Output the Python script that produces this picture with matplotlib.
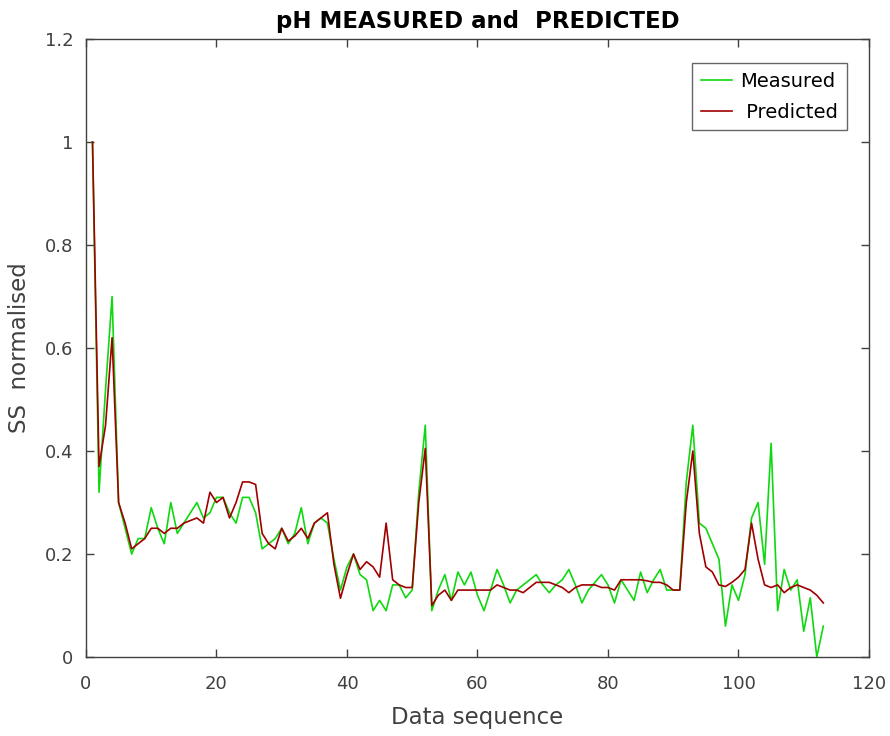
import matplotlib
matplotlib.use("Agg")
import matplotlib.pyplot as plt
import numpy as np

plt.rcParams['font.family'] = ['DejaVu Sans']

# data sequence index 1..113
seq = np.arange(1, 114)

measured = [
    1.0, 0.32, 0.52, 0.70, 0.30, 0.25, 0.20, 0.23, 0.23, 0.29,
    0.25, 0.22, 0.30, 0.24, 0.26, 0.28, 0.30, 0.27, 0.28, 0.31,
    0.31, 0.28, 0.26, 0.31, 0.31, 0.28, 0.21, 0.22, 0.23, 0.25,
    0.22, 0.24, 0.29, 0.22, 0.26, 0.27, 0.26, 0.19, 0.13, 0.175,
    0.20, 0.16, 0.15, 0.09, 0.11, 0.09, 0.14, 0.14, 0.115, 0.13,
    0.32, 0.45, 0.09, 0.13, 0.16, 0.11, 0.165, 0.14, 0.165, 0.12,
    0.09, 0.13, 0.17, 0.14, 0.105, 0.13, 0.14, 0.15, 0.16, 0.14,
    0.125, 0.14, 0.15, 0.17, 0.14, 0.105, 0.13, 0.145, 0.16, 0.14,
    0.105, 0.15, 0.13, 0.11, 0.165, 0.125, 0.15, 0.17, 0.13, 0.13,
    0.13, 0.34, 0.45, 0.26, 0.25, 0.22, 0.19, 0.06, 0.14, 0.11,
    0.16, 0.27, 0.30, 0.18, 0.415, 0.09, 0.17, 0.13, 0.15, 0.05,
    0.115, 0.0, 0.06,
]

predicted = [
    1.0, 0.37, 0.45, 0.62, 0.30, 0.26, 0.21, 0.22, 0.23, 0.25,
    0.25, 0.24, 0.25, 0.25, 0.26, 0.265, 0.27, 0.26, 0.32, 0.30,
    0.31, 0.27, 0.30, 0.34, 0.34, 0.335, 0.24, 0.22, 0.21, 0.25,
    0.225, 0.235, 0.25, 0.23, 0.26, 0.27, 0.28, 0.18, 0.114, 0.16,
    0.20, 0.17, 0.185, 0.175, 0.155, 0.26, 0.15, 0.14, 0.135, 0.135,
    0.30, 0.405, 0.10, 0.12, 0.13, 0.11, 0.13, 0.13, 0.13, 0.13,
    0.13, 0.13, 0.14, 0.135, 0.13, 0.13, 0.125, 0.135, 0.145, 0.145,
    0.145, 0.14, 0.135, 0.125, 0.135, 0.14, 0.14, 0.14, 0.135, 0.135,
    0.13, 0.15, 0.15, 0.15, 0.15, 0.148, 0.145, 0.145, 0.14, 0.13,
    0.13, 0.30, 0.40, 0.24, 0.175, 0.165, 0.14, 0.137, 0.145, 0.155,
    0.17, 0.26, 0.19, 0.14, 0.135, 0.14, 0.125, 0.135, 0.14, 0.135,
    0.13, 0.12, 0.105,
]

grey = '#404040'

fig = plt.figure(figsize=(8.9, 7.36), dpi=100)
ax = fig.add_axes([0.0966, 0.1073, 0.8798, 0.8397])

ax.plot(seq, measured, color='#10d810', lw=1.2, label='Measured')
ax.plot(seq, predicted, color='#a00000', lw=1.2, label=' Predicted')

ax.set_xlim(0, 120)
ax.set_ylim(0, 1.2)
ax.set_xticks(np.arange(0, 121, 20))
ax.set_yticks(np.arange(0, 1.21, 0.2))
ax.set_yticklabels(['0', '0.2', '0.4', '0.6', '0.8', '1', '1.2'])

ax.tick_params(direction='in', top=True, right=True, length=6, width=1,
               labelsize=13, colors=grey, labelcolor=grey)
ax.tick_params(axis='x', pad=13)
ax.tick_params(axis='y', pad=9)
for s in ax.spines.values():
    s.set_color(grey)
    s.set_linewidth(1.0)

ax.set_xlabel('Data sequence', fontsize=16.5, color=grey, labelpad=9)
ax.set_ylabel('SS  normalised', fontsize=16.5, color=grey, labelpad=10)
ax.set_title('pH MEASURED and  PREDICTED', fontsize=16.5, fontweight='bold', pad=8)

leg = ax.legend(loc='upper right', bbox_to_anchor=(0.972, 0.961), borderaxespad=0,
                fontsize=14, frameon=True, fancybox=False, handlelength=1.6,
                handletextpad=0.45, borderpad=0.45, labelspacing=0.6)
leg.get_frame().set_edgecolor(grey)
leg.get_frame().set_linewidth(1.0)

fig.savefig('out.png', dpi=100)
